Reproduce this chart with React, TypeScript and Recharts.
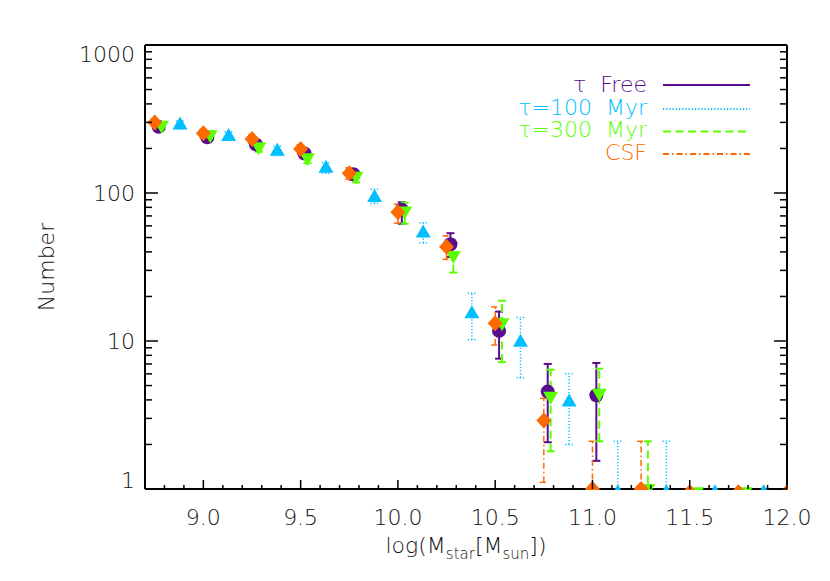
import React from 'react';
import { ScatterChart, Scatter, XAxis, YAxis, ErrorBar } from 'recharts';

// log(M_star) bins and counts
const freeMass = [8.77, 9.02, 9.27, 9.52, 9.77, 10.02, 10.27, 10.52, 10.77, 11.02];
const freeCount = [280, 238, 213, 185, 134, 77, 45, 11.7, 4.55, 4.3];
const freeLow = [263, 223, 199, 172, 123, 62, 37, 7.6, 2.07, 1.55];
const freeHigh = [297, 253, 227, 198, 145, 86.5, 53.5, 15.8, 7.0, 7.1];

const myr100Mass = [8.88, 9.13, 9.38, 9.63, 9.88, 10.13, 10.38, 10.63, 10.88, 11.13, 11.38, 11.63, 11.88];
const myr100Count = [290, 243, 193, 148, 94, 54, 15.4, 9.9, 3.9, 0.95, 0.95, 0.95, 0.95];
const myr100Low = [273, 227, 179, 136, 85, 46, 10.2, 5.65, 2.0, 0.5, 0.5, null, null];
const myr100High = [307, 259, 207, 160, 106, 63, 21, 14.4, 6.0, 2.1, 2.1, null, null];

const myr300Mass = [8.785, 9.035, 9.285, 9.535, 9.785, 10.035, 10.285, 10.535, 10.785, 11.035, 11.285, 11.535, 11.785];
const myr300Count = [285, 246, 204, 172, 129, 75, 37.5, 13.2, 4.2, 4.4, 1, 0.95, 0.95];
const myr300Low = [268, 230, 190, 159, 118, 62, 29, 7.2, 1.8, 2.1, 0.5, null, null];
const myr300High = [302, 262, 218, 185, 140, 86, 46, 18.7, 6.4, 6.5, 2.1, null, null];

const csfMass = [8.75, 9.0, 9.25, 9.5, 9.75, 10.0, 10.25, 10.5, 10.75, 11.0, 11.25, 11.5, 11.75, 12.0];
const csfCount = [300, 253, 232, 198, 136, 74, 43.4, 13.2, 2.9, 1, 1, 0.95, 0.95, 0.95];
const csfLow = [283, 237, 217, 184, 124, 62.5, 35.6, 9.4, 1.11, 0.5, 0.5, null, null, null];
const csfHigh = [317, 269, 247, 212, 148, 84, 51.4, 17, 4.1, 2.1, 2.1, null, null, null];

const xTicks = [
  8.7, 8.8, 8.9, 9.0, 9.1, 9.2, 9.3, 9.4, 9.5, 9.6, 9.7, 9.8, 9.9, 10.0, 10.1, 10.2, 10.3,
  10.4, 10.5, 10.6, 10.7, 10.8, 10.9, 11.0, 11.1, 11.2, 11.3, 11.4, 11.5, 11.6, 11.7, 11.8,
  11.9, 12.0,
];
const yTicks = [
  1, 2, 3, 4, 5, 6, 7, 8, 9, 10, 20, 30, 40, 50, 60, 70, 80, 90, 100, 200, 300, 400, 500,
  600, 700, 800, 900, 1000,
];

const PURPLE = '#5a0c8e';
const CYAN = '#00bfff';
const GREEN = '#5cff00';
const ORANGE = '#ff6a00';
const FONT = "'DejaVu Sans', sans-serif";
const CLIP = 'url(#plotClip)';

const toRows = (mass: number[], count: number[], low: (number | null)[], high: (number | null)[]) =>
  mass.map((m, i) => ({
    mass: m,
    count: count[i],
    err: low[i] == null ? [0, 0] : [count[i] - (low[i] as number), (high[i] as number) - count[i]],
  }));

const freeRows = toRows(freeMass, freeCount, freeLow, freeHigh);
const myr100Rows = toRows(myr100Mass, myr100Count, myr100Low, myr100High);
const myr300Rows = toRows(myr300Mass, myr300Count, myr300Low, myr300High);
const csfRows = toRows(csfMass, csfCount, csfLow, csfHigh);

const isMajorX = (v: number) => Math.abs(v * 2 - Math.round(v * 2)) < 1e-6;
const isMajorY = (v: number) => Math.abs(Math.log10(v) - Math.round(Math.log10(v))) < 1e-6;

const BottomTick = (props: any) => {
  const { x, payload } = props;
  const y = 489;
  const major = isMajorX(payload.value);
  return (
    <g>
      <line x1={x} y1={y} x2={x} y2={y - (major ? 9 : 4)} stroke="#000" strokeWidth={1.5} />
      {major && payload.value >= 9 && (
        <text x={x} y={y + 36} textAnchor="middle" fontFamily={FONT} fontWeight={200} fontSize={22} fill="#111">
          {payload.value.toFixed(1)}
        </text>
      )}
    </g>
  );
};

const TopTick = (props: any) => {
  const { x, payload } = props;
  const y = 45;
  const major = isMajorX(payload.value);
  return <line x1={x} y1={y} x2={x} y2={y + (major ? 9 : 4)} stroke="#000" strokeWidth={1.5} />;
};

const LeftTick = (props: any) => {
  const { y, payload } = props;
  const x = 145;
  const v = payload.value;
  const major = isMajorY(v);
  const dy = v >= 1000 ? 17 : v <= 1 ? -1 : 8;
  return (
    <g>
      <line x1={x} y1={y} x2={x + (major ? 13 : 7)} y2={y} stroke="#000" strokeWidth={1.5} />
      {major && (
        <text x={x - 10} y={y + dy} textAnchor="end" fontFamily={FONT} fontWeight={200} fontSize={22} fill="#111">
          {v}
        </text>
      )}
    </g>
  );
};

const RightTick = (props: any) => {
  const { y, payload } = props;
  const x = 787;
  const major = isMajorY(payload.value);
  return <line x1={x} y1={y} x2={x - (major ? 13 : 7)} y2={y} stroke="#000" strokeWidth={1.5} />;
};

// symbols are clipped to the plot box, like points sitting on the bottom axis in the original
const circleShape = (color: string) => (p: any) => (
  <g clipPath={CLIP}>
    <circle cx={p.cx} cy={p.cy} r={7} fill={color} />
  </g>
);
const upShape = (color: string) => (p: any) => (
  <g clipPath={CLIP}>
    <polygon points={`${p.cx},${p.cy - 8} ${p.cx - 7.5},${p.cy + 5} ${p.cx + 7.5},${p.cy + 5}`} fill={color} />
  </g>
);
const downShape = (color: string) => (p: any) => (
  <g clipPath={CLIP}>
    <polygon points={`${p.cx},${p.cy + 8} ${p.cx - 7.5},${p.cy - 5} ${p.cx + 7.5},${p.cy - 5}`} fill={color} />
  </g>
);
const diamondShape = (color: string) => (p: any) => (
  <g clipPath={CLIP}>
    <polygon points={`${p.cx},${p.cy - 8} ${p.cx + 7.5},${p.cy} ${p.cx},${p.cy + 8} ${p.cx - 7.5},${p.cy}`} fill={color} />
  </g>
);

const legendRows = [
  { label: 'τ\u00a0\u00a0Free', color: PURPLE, dash: undefined as string | undefined, textY: 92, lineY: 85 },
  { label: 'τ=100\u00a0\u00a0Myr', color: CYAN, dash: '1.2 2', textY: 115, lineY: 109 },
  { label: 'τ=300\u00a0\u00a0Myr', color: GREEN, dash: '8 4.5', textY: 137, lineY: 131.5 },
  { label: 'CSF', color: ORANGE, dash: '6 3 1.5 3', textY: 160, lineY: 154 },
];

const App = () => (
  <div style={{ position: 'absolute', left: 0, top: 0, width: 830, height: 581, background: '#fff' }}>
    <style>{'.recharts-errorBar, .recharts-scatter, .recharts-errorBars { clip-path: url(#plotClip); }'}</style>
    <svg width={0} height={0} style={{ position: 'absolute' }}>
      <defs>
        <clipPath id="plotClip" clipPathUnits="userSpaceOnUse">
          <rect x={144} y={44} width={644} height={446} />
        </clipPath>
      </defs>
    </svg>
    <ScatterChart width={830} height={581} margin={{ top: 44, right: 42, bottom: 91, left: 144 }}>
      <XAxis
        xAxisId={0}
        dataKey="mass"
        type="number"
        domain={[8.7, 12]}
        allowDataOverflow
        ticks={xTicks}
        interval={0}
        height={1}
        tickSize={0}
        tickMargin={0}
        tickLine={false}
        tick={BottomTick}
        axisLine={{ stroke: '#000', strokeWidth: 2 }}
      />
      <XAxis
        xAxisId="top"
        orientation="top"
        type="number"
        domain={[8.7, 12]}
        allowDataOverflow
        ticks={xTicks}
        interval={0}
        height={1}
        tickSize={0}
        tickMargin={0}
        tickLine={false}
        tick={TopTick}
        axisLine={{ stroke: '#000', strokeWidth: 2 }}
      />
      <YAxis
        yAxisId={0}
        dataKey="count"
        type="number"
        scale="log"
        domain={[1, 1000]}
        allowDataOverflow
        ticks={yTicks}
        interval={0}
        width={1}
        tickSize={0}
        tickMargin={0}
        tickLine={false}
        tick={LeftTick}
        axisLine={{ stroke: '#000', strokeWidth: 2 }}
      />
      <YAxis
        yAxisId="right"
        orientation="right"
        type="number"
        scale="log"
        domain={[1, 1000]}
        allowDataOverflow
        ticks={yTicks}
        interval={0}
        width={1}
        tickSize={0}
        tickMargin={0}
        tickLine={false}
        tick={RightTick}
        axisLine={{ stroke: '#000', strokeWidth: 2 }}
      />
      <Scatter name="τ Free" data={freeRows} dataKey="count" shape={circleShape(PURPLE)} isAnimationActive={false}>
        <ErrorBar dataKey="err" direction="y" width={4} stroke={PURPLE} strokeWidth={2} />
      </Scatter>
      <Scatter name="τ=100 Myr" data={myr100Rows} dataKey="count" shape={upShape(CYAN)} isAnimationActive={false}>
        <ErrorBar dataKey="err" direction="y" width={4} stroke={CYAN} strokeWidth={1.5} strokeDasharray="1.2 2" />
      </Scatter>
      <Scatter name="τ=300 Myr" data={myr300Rows} dataKey="count" shape={downShape(GREEN)} isAnimationActive={false}>
        <ErrorBar dataKey="err" direction="y" width={4} stroke={GREEN} strokeWidth={2} strokeDasharray="8 4.5" />
      </Scatter>
      <Scatter name="CSF" data={csfRows} dataKey="count" shape={diamondShape(ORANGE)} isAnimationActive={false}>
        <ErrorBar dataKey="err" direction="y" width={4} stroke={ORANGE} strokeWidth={1.5} strokeDasharray="6 3 1.5 3" />
      </Scatter>
    </ScatterChart>
    <svg width={830} height={581} style={{ position: 'absolute', left: 0, top: 0, pointerEvents: 'none' }}>
      {legendRows.map((r) => (
        <g key={r.label}>
          <text x={647} y={r.textY} textAnchor="end" fontFamily={FONT} fontWeight={200} fontSize={22} fill={r.color}>
            {r.label}
          </text>
          <line x1={663} y1={r.lineY} x2={750} y2={r.lineY} stroke={r.color} strokeWidth={2} strokeDasharray={r.dash} />
        </g>
      ))}
      <text x={466} y={553} textAnchor="middle" fontFamily={FONT} fontWeight={200} fontSize={22} fill="#111">
        log(M<tspan fontSize={15} dy={6}>star</tspan>
        <tspan dy={-6}>[M</tspan>
        <tspan fontSize={15} dy={6}>sun</tspan>
        <tspan dy={-6}>])</tspan>
      </text>
      <text
        x={54}
        y={267}
        transform="rotate(-90, 54, 267)"
        textAnchor="middle"
        fontFamily={FONT}
        fontWeight={200}
        fontSize={22}
        fill="#111"
      >
        Number
      </text>
    </svg>
  </div>
);

export default App;
